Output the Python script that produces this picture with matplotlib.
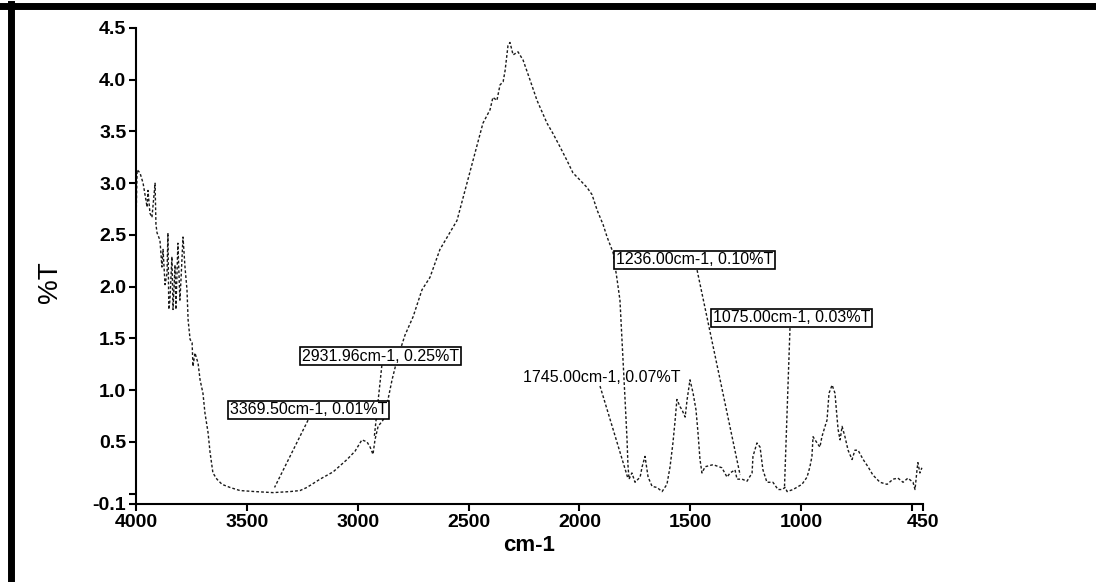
import numpy as np
import matplotlib
matplotlib.use("Agg")
import matplotlib.pyplot as plt
from matplotlib.lines import Line2D

plt.rcParams['font.family'] = ['Liberation Sans', 'DejaVu Sans']

# FTIR spectrum (wavenumber cm-1, %T)
wavenumber = [4000, 3995, 3982, 3968, 3950, 3946, 3937, 3928, 3914, 3910,
              3905, 3892, 3883, 3878, 3869, 3860, 3856, 3852, 3847, 3838,
              3833, 3824, 3820, 3811, 3802, 3797, 3788, 3779, 3770, 3765,
              3756, 3747, 3743, 3734, 3720, 3711, 3698, 3689, 3675, 3666,
              3653, 3635, 3612, 3576, 3531, 3463, 3382, 3305, 3260, 3229,
              3170, 3111, 3048, 3012, 2981, 2958, 2944, 2931, 2922, 2908,
              2886, 2868, 2845, 2823, 2787, 2750, 2710, 2674, 2629, 2552,
              2516, 2480, 2435, 2403, 2390, 2372, 2358, 2344, 2335, 2322,
              2313, 2299, 2277, 2254, 2223, 2191, 2146, 2119, 2087, 2056,
              2029, 1997, 1966, 1943, 1920, 1893, 1875, 1848, 1830, 1817,
              1803, 1794, 1785, 1781, 1776, 1763, 1749, 1726, 1717, 1704,
              1690, 1672, 1650, 1627, 1605, 1591, 1578, 1569, 1560, 1546,
              1537, 1523, 1514, 1510, 1501, 1487, 1474, 1465, 1456, 1447,
              1433, 1397, 1357, 1334, 1320, 1298, 1289, 1266, 1244, 1221,
              1217, 1199, 1185, 1172, 1154, 1127, 1104, 1086, 1072, 1063,
              1036, 996, 973, 960, 951, 946, 928, 915, 906, 892,
              883, 874, 860, 847, 842, 833, 824, 815, 802, 788,
              770, 757, 743, 720, 698, 676, 644, 612, 585, 563,
              540, 518, 495, 486, 477, 473, 464, 455]
transmittance = [2.62, 3.13, 3.10, 3.00, 2.77, 2.93, 2.71, 2.67, 3.00, 2.60,
                 2.52, 2.45, 2.19, 2.36, 2.02, 2.13, 2.52, 1.78, 1.87, 2.29,
                 1.78, 2.21, 1.78, 2.42, 1.87, 2.07, 2.48, 2.19, 1.97, 1.68,
                 1.49, 1.46, 1.23, 1.36, 1.26, 1.10, 0.97, 0.78, 0.59, 0.40,
                 0.20, 0.14, 0.09, 0.06, 0.03, 0.02, 0.01, 0.02, 0.03, 0.06,
                 0.14, 0.21, 0.33, 0.41, 0.52, 0.50, 0.45, 0.38, 0.52, 0.65,
                 0.71, 0.86, 1.10, 1.29, 1.53, 1.71, 1.97, 2.09, 2.36, 2.64,
                 2.93, 3.22, 3.58, 3.71, 3.83, 3.80, 3.95, 3.98, 4.09, 4.33,
                 4.36, 4.24, 4.27, 4.19, 4.00, 3.80, 3.58, 3.48, 3.35, 3.22,
                 3.10, 3.03, 2.96, 2.89, 2.74, 2.60, 2.48, 2.33, 2.07, 1.87,
                 1.29, 0.91, 0.52, 0.28, 0.14, 0.20, 0.11, 0.16, 0.26, 0.36,
                 0.16, 0.07, 0.06, 0.02, 0.09, 0.26, 0.49, 0.69, 0.91, 0.84,
                 0.81, 0.74, 0.91, 0.97, 1.10, 0.97, 0.81, 0.59, 0.33, 0.20,
                 0.26, 0.28, 0.25, 0.16, 0.20, 0.23, 0.14, 0.14, 0.12, 0.20,
                 0.36, 0.49, 0.45, 0.23, 0.11, 0.11, 0.04, 0.04, 0.06, 0.02,
                 0.04, 0.09, 0.16, 0.26, 0.36, 0.55, 0.49, 0.45, 0.55, 0.65,
                 0.71, 0.97, 1.05, 0.97, 0.84, 0.62, 0.52, 0.65, 0.55, 0.42,
                 0.33, 0.42, 0.42, 0.33, 0.26, 0.18, 0.11, 0.09, 0.14, 0.15,
                 0.11, 0.15, 0.11, 0.04, 0.23, 0.30, 0.20, 0.25]

# peak labels
peak_labels = ["3369.50cm-1, 0.01%T", "2931.96cm-1, 0.25%T", "1745.00cm-1, 0.07%T",
               "1236.00cm-1, 0.10%T", "1075.00cm-1, 0.03%T"]
label_pos = [(3576, 0.81), (3251, 1.33), (2254, 1.12), (1835, 2.26), (1397, 1.70)]
label_box = [True, True, False, True, True]
leader_start = [(3224, 0.71), (2891, 1.24), (1907, 1.04), (1469, 2.16), (1050, 1.60)]
leader_end = [(3375, 0.06), (2925, 0.55), (1780, 0.14), (1275, 0.18), (1075, 0.05)]

x_ticks = [4000, 3500, 3000, 2500, 2000, 1500, 1000, 450]
y_ticks = [-0.1, 0.5, 1.0, 1.5, 2.0, 2.5, 3.0, 3.5, 4.0, 4.5]
y_tick_labels = ["-0.1", "0.5", "1.0", "1.5", "2.0", "2.5", "3.0", "3.5", "4.0", "4.5"]

fig = plt.figure(figsize=(10.96, 5.82), dpi=100)
ax = fig.add_axes([136 / 1096, 1 - 504 / 582, (923 - 136) / 1096, (504 - 28) / 582])

ax.plot(wavenumber, transmittance, color='#1a1a1a', lw=1.0, linestyle=(0, (2, 1.5)))

for text, pos, boxed, p0, p1 in zip(peak_labels, label_pos, label_box, leader_start, leader_end):
    ax.plot([p0[0], p1[0]], [p0[1], p1[1]], color='#1a1a1a', lw=1.0, linestyle=(0, (2, 1.5)))
    bbox = dict(boxstyle='square,pad=0.1', fc='white', ec='black', lw=1.2) if boxed else None
    ax.text(pos[0], pos[1], text, ha='left', va='center', fontsize=11.5,
            color='black', bbox=bbox)

ax.set_xlim(4000, 450)
ax.set_ylim(-0.1, 4.5)
ax.set_xticks(x_ticks)
ax.set_xticks([500], minor=True)
ax.set_yticks(y_ticks)
ax.set_yticklabels(y_tick_labels)
ax.set_yticks([0.0], minor=True)
ax.tick_params(axis='both', which='both', direction='out', length=5, width=1.5,
               labelsize=14, pad=2)
for lab in ax.get_xticklabels() + ax.get_yticklabels():
    lab.set_fontweight('bold')

ax.spines['top'].set_visible(False)
ax.spines['right'].set_visible(False)
ax.spines['left'].set_linewidth(1.5)
ax.spines['bottom'].set_linewidth(1.5)

ax.set_xlabel("cm-1", fontsize=16, fontweight='bold', labelpad=3)
ax.set_ylabel("%T", fontsize=20)
ax.yaxis.set_label_coords(-0.093, 0.466)

# scanned page frame
fig.add_artist(Line2D([0, 1], [1 - 6 / 582, 1 - 6 / 582], color='black', lw=5,
                      transform=fig.transFigure))
fig.add_artist(Line2D([10.5 / 1096, 10.5 / 1096], [0, 1 - 4 / 582], color='black', lw=5,
                      transform=fig.transFigure))

fig.savefig("out.png", dpi=100)
